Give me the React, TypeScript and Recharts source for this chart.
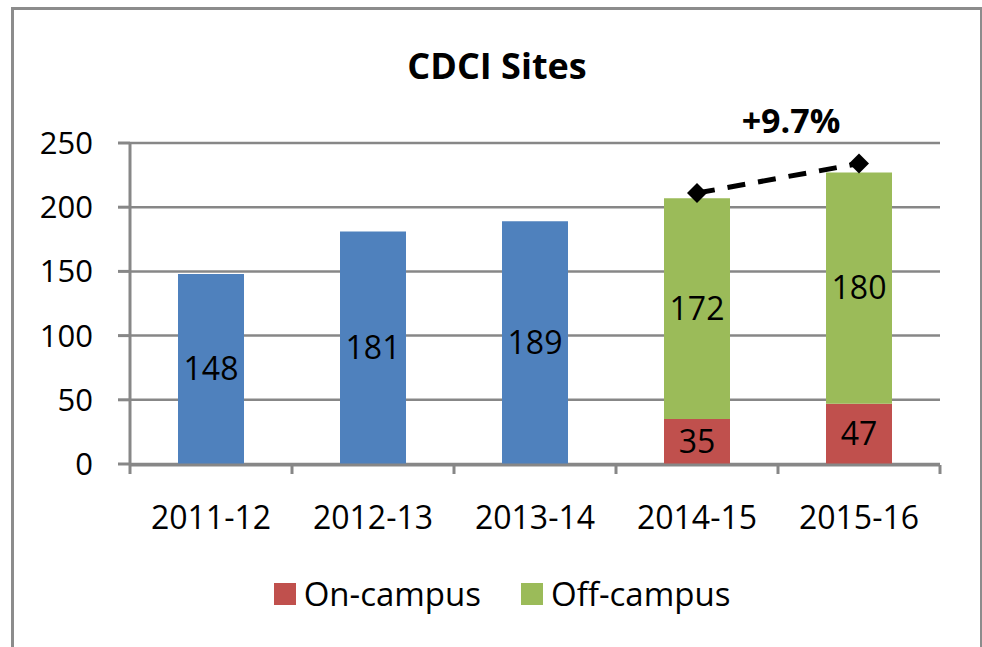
import {
  ComposedChart,
  Bar,
  Line,
  XAxis,
  YAxis,
  CartesianGrid,
  Legend,
  LabelList,
} from 'recharts';

const categories = ['2011-12', '2012-13', '2013-14', '2014-15', '2015-16'];
const allSites = [148, 181, 189, null, null];
const onCampus = [null, null, null, 35, 47];
const offCampus = [null, null, null, 172, 180];
// the dashed arrow sits a little above the two stacked bars
const trendLine = [null, null, null, 211, 234];
const yTicks = [0, 50, 100, 150, 200, 250];
const boundaryTicks = [0, 1, 2, 3, 4, 5];

const data = categories.map((year, i) => ({
  year,
  all: allSites[i],
  on: onCampus[i],
  off: offCampus[i],
  trend: trendLine[i],
}));

const prevTotal = (onCampus[3] ?? 0) + (offCampus[3] ?? 0);
const lastTotal = (onCampus[4] ?? 0) + (offCampus[4] ?? 0);
const growthLabel = `+${((lastTotal / prevTotal - 1) * 100).toFixed(1)}%`;

const GRID = '#878787';
const FONT = '"Open Sans", sans-serif';

const Diamond = (props: any) => {
  const { cx, cy, index } = props;
  if (cx == null || cy == null || trendLine[index] == null) return <g key={index} />;
  const r = 10;
  return (
    <polygon
      key={index}
      points={`${cx},${cy - r} ${cx + r},${cy} ${cx},${cy + r} ${cx - r},${cy}`}
      fill="#000"
    />
  );
};

const GrowthText = (props: any) => {
  const { x, y, index } = props;
  if (index !== 4) return null;
  return (
    <text
      x={x - 68}
      y={y - 31}
      textAnchor="middle"
      fontSize={34}
      fontWeight={700}
      fill="#000"
      fontFamily={FONT}
    >
      {growthLabel}
    </text>
  );
};

const LegendBox = () => {
  const items = [
    { name: 'On-campus', color: '#C0504D' },
    { name: 'Off-campus', color: '#9BBB59' },
  ];
  return (
    <div
      style={{
        display: 'flex',
        justifyContent: 'center',
        alignItems: 'center',
        height: 40,
        gap: 40,
        paddingLeft: 22,
      }}
    >
      {items.map((it) => (
        <div key={it.name} style={{ display: 'flex', alignItems: 'center' }}>
          <span
            style={{ width: 22, height: 22, background: it.color, marginRight: 8 }}
          />
          <span style={{ fontSize: 33, color: '#000', lineHeight: '40px' }}>
            {it.name}
          </span>
        </div>
      ))}
    </div>
  );
};

export default function App() {
  return (
    <div
      style={{
        position: 'absolute',
        left: 0,
        top: 0,
        width: 982,
        height: 647,
        background: '#fff',
        overflow: 'hidden',
        fontFamily: FONT,
      }}
    >
      <div
        style={{
          position: 'absolute',
          left: 11,
          top: 7,
          width: 966,
          height: 660,
          border: '3px solid #8c8c8c',
        }}
      />
      <div
        style={{
          position: 'absolute',
          left: 0,
          width: 994,
          top: 44,
          textAlign: 'center',
          fontSize: 36,
          fontWeight: 700,
          color: '#000',
          lineHeight: '44px',
        }}
      >
        CDCI Sites
      </div>
      <ComposedChart
        width={982}
        height={647}
        data={data}
        margin={{ top: 143, right: 42, bottom: 0, left: 0 }}
        barSize={66}
        style={{ position: 'absolute', left: 0, top: 0 }}
      >
        <CartesianGrid vertical={false} stroke={GRID} strokeWidth={2.5} />
        {/* category labels; this axis sits right against the plot */}
        <XAxis
          dataKey="year"
          height={1}
          axisLine={false}
          tickLine={false}
          tickSize={0}
          tickMargin={42}
          tick={{ fontSize: 32, fill: '#000' }}
          interval={0}
        />
        {/* Excel style tick marks between the categories */}
        <XAxis
          xAxisId="bounds"
          type="number"
          dataKey={() => 0}
          domain={[0, 5]}
          ticks={boundaryTicks}
          tick={{ fontSize: 1, fill: 'transparent' }}
          height={142}
          tickSize={9}
          stroke={GRID}
          strokeWidth={3}
          allowDataOverflow
        />
        <YAxis
          width={130}
          domain={[0, 250]}
          ticks={yTicks}
          tickSize={12}
          tickMargin={25}
          stroke={GRID}
          strokeWidth={3}
          tick={{ fontSize: 31, fill: '#000' }}
        />
        <Legend
          content={<LegendBox />}
          wrapperStyle={{ top: 574, left: 0, width: 982, bottom: 'auto' }}
        />
        <Bar dataKey="all" name="All sites" stackId="s" fill="#4F81BD" isAnimationActive={false}>
          <LabelList dataKey="all" position="center" fontSize={32} fill="#000" />
        </Bar>
        <Bar dataKey="on" name="On-campus" stackId="s" fill="#C0504D" isAnimationActive={false}>
          <LabelList dataKey="on" position="center" fontSize={32} fill="#000" />
        </Bar>
        <Bar dataKey="off" name="Off-campus" stackId="s" fill="#9BBB59" isAnimationActive={false}>
          <LabelList dataKey="off" position="center" fontSize={32} fill="#000" />
        </Bar>
        <Line
          dataKey="trend"
          stroke="#000"
          strokeWidth={5}
          strokeDasharray="18 13"
          dot={<Diamond />}
          activeDot={false}
          isAnimationActive={false}
        >
          <LabelList dataKey="trend" content={<GrowthText />} />
        </Line>
      </ComposedChart>
    </div>
  );
}
